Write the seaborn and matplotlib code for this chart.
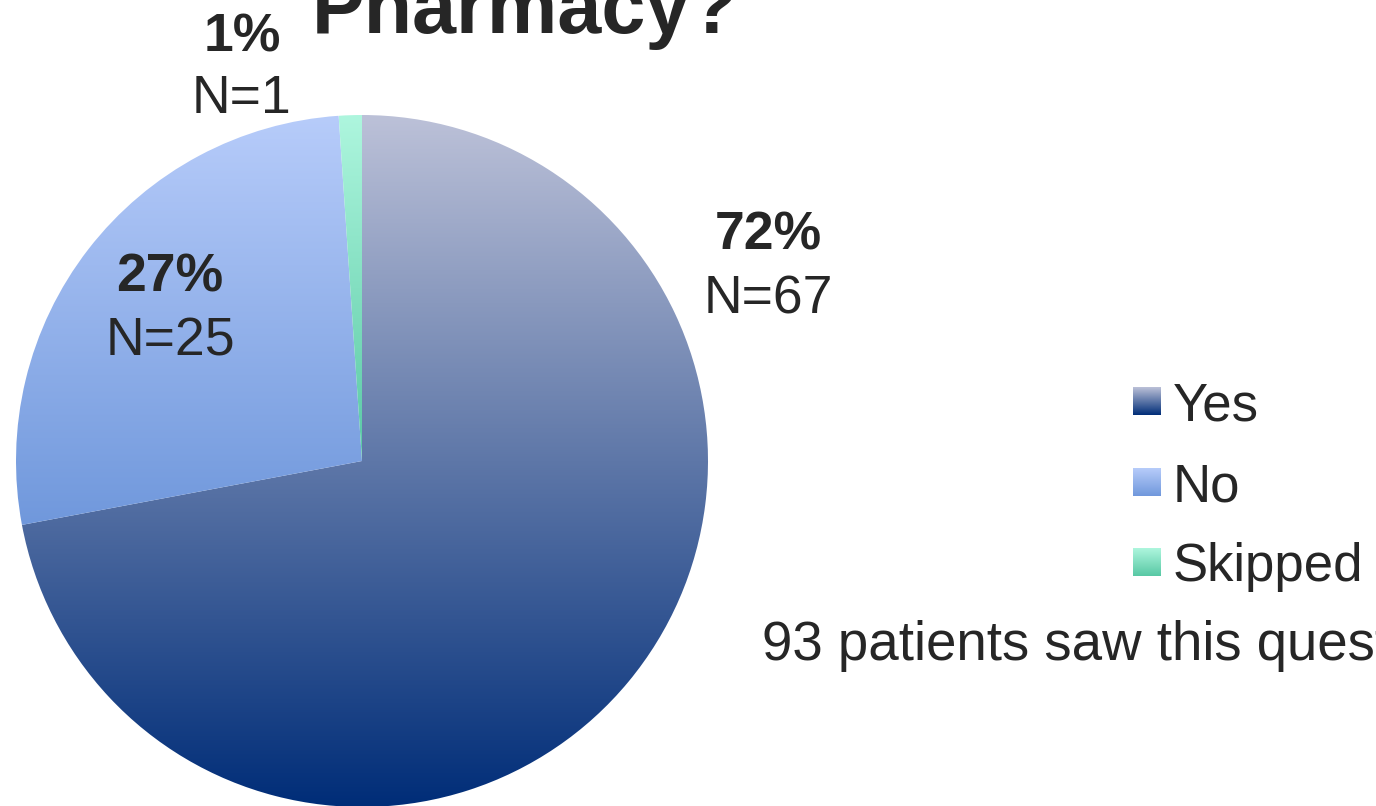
import numpy as np
import matplotlib
matplotlib.use("Agg")
import matplotlib.pyplot as plt
import seaborn as sns

# Survey answers
categories = ["Yes", "No", "Skipped"]
counts = [67, 25, 1]
n_seen = 93

# gradient colours per slice (top -> bottom)
grad_top = [(188, 193, 216), (183, 204, 250), (174, 246, 222)]
grad_bottom = [(0, 45, 120), (112, 152, 220), (88, 200, 164)]

sns.set_theme(style="white")
plt.rcParams["font.family"] = ["Liberation Sans", "DejaVu Sans"]
text_color = "#262626"

W, H = 1376, 806
fig = plt.figure(figsize=(W / 100, H / 100), dpi=100)
ax = fig.add_axes([0, 0, 1, 1])


def gradient(top, bottom, n=256):
    t = np.linspace(0, 1, n)[:, None]
    top = np.array(top) / 255
    bottom = np.array(bottom) / 255
    arr = top[None, :] * (1 - t) + bottom[None, :] * t
    return arr[:, None, :]


# Pie in pixel-like data coordinates (y up)
cx, cy, r = 362, H - 461, 346
wedges, _ = ax.pie(counts, center=(cx, cy), radius=r, startangle=90,
                   counterclock=False, colors=["none"] * 3,
                   wedgeprops=dict(linewidth=0))
ax.set_xlim(0, W)
ax.set_ylim(0, H)
ax.set_aspect("equal")
ax.axis("off")

for w, top, bot in zip(wedges, grad_top, grad_bottom):
    bb = w.get_path().get_extents(w.get_patch_transform())
    im = ax.imshow(gradient(top, bot), extent=(bb.x0, bb.x1, bb.y0, bb.y1),
                   origin="upper", aspect="auto", interpolation="bilinear", zorder=1)
    im.set_clip_path(w)

ax.set_xlim(0, W)
ax.set_ylim(0, H)

# Slice labels
total = sum(counts)
label_pos = [(768, 250, 313), (170, 292, 355), (242, 52, 113)]
for v, (lx, y1, y2) in zip(counts, label_pos):
    ax.text(lx, H - y1, f"{v / total:.0%}", ha="center", va="baseline",
            fontsize=38.5, fontweight="bold", color=text_color, zorder=3)
    ax.text(lx, H - y2, f"N={v}", ha="center", va="baseline",
            fontsize=38.5, color=text_color, zorder=3)

# Title (top clipped as in the original slide)
ax.text(525, H - 33, "Pharmacy?", ha="center", va="baseline",
        fontsize=57, fontweight="bold", color=text_color, zorder=3)

# Legend with gradient swatches
leg_y = [401, 482, 562]
for name, yc, top, bot in zip(categories, leg_y, grad_top, grad_bottom):
    ax.imshow(gradient(top, bot), extent=(1133, 1161, H - yc - 14, H - yc + 14),
              origin="upper", aspect="auto", interpolation="bilinear", zorder=3)
    ax.text(1173, H - yc, name, ha="left", va="center_baseline",
            fontsize=38, color=text_color, zorder=3)

ax.set_xlim(0, W)
ax.set_ylim(0, H)

ax.text(762, H - 660, f"{n_seen} patients saw this question", ha="left",
        va="baseline", fontsize=39.3, color=text_color, zorder=3)

fig.savefig("out.png", dpi=100)
